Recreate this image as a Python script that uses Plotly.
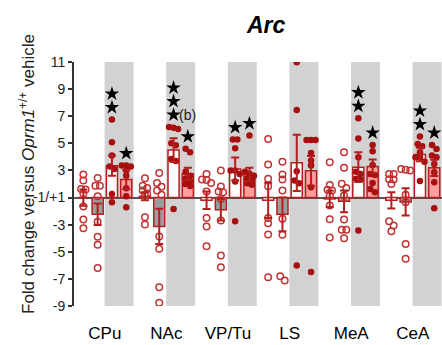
import plotly.graph_objects as go

# ---------------- data (fold change vs Oprm1+/+ vehicle) ----------------
regions = ["CPu", "NAc", "VP/Tu", "LS", "MeA", "CeA"]
y_tick_vals_fold = [11, 9, 7, 5, 3, 1, -3, -5, -7, -9]
y_tick_text = ["11", "9", "7", "5", "3", "-1/+1", "-3", "-5", "-7", "-9"]

# group 1: open circles, white bar
pts_g1 = [
    [2.7, 2.25, 1.64, 1.6, 1.3, -1.66, -2.62, -3.26],
    [2.43, 1.88, 1.71, 1.52, 1.3, 1.15, -2.45, -2.99],
    [2.74, 2.33, 2.3, 2.08, 1.44, -2.5, -3.14, -4.59],
    [5.32, 3.43, 2.38, 1.84, -2.5, -2.89, -3.73, -6.87],
    [3.6, 1.93, 1.57, 1.52, 1.15, -1.59, -2.6, -3.95],
    [2.74, 2.74, 2.35, 2.33, 2.0, -2.74, -3.06, -3.48],
]
# group 2: open circles, grey bar
pts_g2 = [
    [2.45, 1.88, 1.88, 1.1, -2.78, -3.9, -4.49, -6.2],
    [2.82, 2.08, 1.79, 1.52, 1.2, -3.87, -4.78, -7.61, -8.76],
    [2.99, 1.81, 1.44, 1.39, -1.1, -2.7, -5.28, -6.14],
    [3.65, 2.7, 2.33, 1.52, -2.57, -3.75, -6.8, -7.12],
    [4.34, 3.19, 2.01, 1.71, 1.15, -2.62, -3.38, -3.38, -4.0],
    [3.11, 3.06, 2.99, 1.2, -1.34, -4.42, -5.52],
]
# group 3: filled dots, white bar (shaded band)
pts_g3 = [
    [6.75, 5.08, 4.1, 3.3, 3.1, 1.27, -1.34],
    [6.2, 6.15, 6.05, 5.0, 4.85, 3.85, 3.7, -1.84],
    [5.28, 5.28, 4.64, 3.0, 3.0, 2.74, 2.18, -2.74],
    [10.98, 7.46, 2.94, 2.25, 2.06, -6.01],
    [6.85, 5.35, 3.97, 2.9, 2.74, 2.38, 2.33, -3.43],
    [5.5, 4.96, 4.78, 4.34, 3.97, 3.97, 3.65, 2.23],
]
# group 4: filled dots, pink bar (shaded band)
pts_g4 = [
    [3.36, 3.36, 3.3, 3.0, 2.6, 1.69, 1.1, -1.71],
    [4.6, 4.35, 2.9, 2.6, 2.4, 2.2, 2.0, 1.85],
    [5.57, 2.9, 2.75, 2.6, 2.4, 2.25, 2.05, 1.95],
    [5.25, 5.25, 5.25, 4.29, 3.73, 3.36, 1.76, -6.5],
    [4.88, 4.42, 3.41, 2.74, 2.67, 2.08, 1.64, 1.39],
    [4.88, 4.59, 4.1, 3.97, 3.48, 2.87, 2.13, -1.79],
]

mean_g1 = [1.0, 1.1, -1.2, -1.2, -1.1, -1.2]
mean_g2 = [-2.23, -3.13, -1.9, -2.24, -1.28, -1.32]
mean_g3 = [3.35, 4.5, 3.11, 3.56, 3.24, 4.17]
mean_g4 = [2.33, 2.75, 2.7, 2.97, 3.3, 3.19]

sem_g1 = [0.6, 0.3, 0.65, 1.3, 0.6, 0.6]
sem_g2 = [0.8, 1.3, 0.8, 1.24, 0.8, 1.0]
sem_g3 = [0.75, 0.87, 0.85, 2.08, 1.1, 0.5]
sem_g4 = [0.7, 0.45, 0.5, 1.1, 0.5, 0.6]

stars_g3 = [2, 3, 1, 0, 2, 2]
stars_g4 = [1, 1, 1, 0, 1, 1]
star_note = {("g3", "NAc"): "(b)"}

# ---------------- styling ----------------
FONT = "Arial, Liberation Sans, sans-serif"
DARK_RED = "#a80f0f"
OPEN_RED = "#c23333"
BAR_LINE = "#b41e1e"
BAND = "#d3d2d3"
W, H = 442, 345
ML, MR, MT, MB = 74, 0, 62, 39
PLOT_W = W - ML - MR
PLOT_H = H - MT - MB
Y_RANGE = [-8, 10]
CAT_PX = 61.6
X_RANGE = [-0.5, -0.5 + PLOT_W / CAT_PX]
PX_PER_X = PLOT_W / (X_RANGE[1] - X_RANGE[0])
PX_PER_Y = PLOT_H / (Y_RANGE[1] - Y_RANGE[0])
SLOT = 0.232          # distance between bars in a group (x units)
BAR_W = 0.18


def to_plot(f):
    """Broken fold-change axis: +1 and -1 both map to 0."""
    return f - 1 if f >= 1 else f + 1


def swarm(vals, step_px=4.5, thr_px=4.5):
    """Centered row layout of points with similar values (pixel space)."""
    order = sorted(range(len(vals)), key=lambda k: -vals[k])
    offs = [0.0] * len(vals)
    clusters = []
    for k in order:
        if clusters and abs(vals[clusters[-1][0]] - vals[k]) * PX_PER_Y < thr_px:
            clusters[-1].append(k)
        else:
            clusters.append([k])
    for c in clusters:
        n = len(c)
        for j, k in enumerate(c):
            offs[k] = (j - (n - 1) / 2) * step_px / PX_PER_X
    return offs


fig = go.Figure()

# shaded bands behind groups 3 and 4
for i, _ in enumerate(regions):
    fig.add_shape(type="rect", xref="x", yref="y", layer="below",
                  x0=i + SLOT - 0.235, x1=i + SLOT + 0.235,
                  y0=Y_RANGE[0], y1=Y_RANGE[1], fillcolor=BAND, line_width=0)

series = [
    ("g1", pts_g1, mean_g1, sem_g1, "white", "open", None),
    ("g2", pts_g2, mean_g2, sem_g2, "#9c9c9c", "open", None),
    ("g3", pts_g3, mean_g3, sem_g3, "white", "filled", stars_g3),
    ("g4", pts_g4, mean_g4, sem_g4, "#ff9e9e", "filled", stars_g4),
]

for s_idx, (name, pts, means, sems, fill, style, stars) in enumerate(series):
    off = (s_idx - 1.5) * SLOT
    xs = [i + off for i in range(len(regions))]
    ym = [to_plot(m) for m in means]
    fig.add_trace(go.Bar(x=xs, y=ym, width=BAR_W, showlegend=False,
                         marker=dict(color=fill, line=dict(color=BAR_LINE, width=1.5))))

for s_idx, (name, pts, means, sems, fill, style, stars) in enumerate(series):
    off = (s_idx - 1.5) * SLOT
    px, py = [], []
    for i, vals in enumerate(pts):
        pv = [to_plot(v) for v in vals]
        jit = swarm(pv)
        px += [i + off + j for j in jit]
        py += pv
    if style == "open":
        mk = dict(symbol="circle-open", size=6.5, color=OPEN_RED, line=dict(width=1.5))
    else:
        mk = dict(symbol="circle", size=6.5, color=DARK_RED, line=dict(width=0))
    fig.add_trace(go.Scatter(x=px, y=py, mode="markers", marker=mk, showlegend=False,
                             hoverinfo="skip"))

for s_idx, (name, pts, means, sems, fill, style, stars) in enumerate(series):
    off = (s_idx - 1.5) * SLOT
    xs = [i + off for i in range(len(regions))]
    ym = [to_plot(m) for m in means]
    fig.add_trace(go.Scatter(x=xs, y=ym, mode="markers", showlegend=False,
                             marker=dict(size=1, color="rgba(0,0,0,0)"),
                             error_y=dict(type="data", array=sems, visible=True,
                                          color=BAR_LINE, thickness=2, width=4)))

# significance stars
sx, sy = [], []
for s_idx, (name, pts, means, sems, fill, style, stars) in enumerate(series):
    if stars is None:
        continue
    off = (s_idx - 1.5) * SLOT
    for i, n in enumerate(stars):
        top = max(to_plot(v) for v in pts[i])
        for k in range(n):
            sx.append(i + off)
            sy.append(top + 0.9 + k * 1.0)
        note = star_note.get((name, regions[i]))
        if note and n:
            fig.add_annotation(x=i + off + 0.06, y=top + 0.9, text=note, showarrow=False,
                               xanchor="left", yanchor="middle",
                               font=dict(family=FONT, size=14, color="#222"))
fig.add_trace(go.Scatter(x=sx, y=sy, mode="markers", showlegend=False,
                         marker=dict(symbol="star", size=11, color="black")))

fig.add_annotation(xref="paper", yref="paper", x=(266 - ML) / PLOT_W,
                   y=(H - MB - 25) / PLOT_H, text="<b><i>Arc</i></b>", showarrow=False,
                   xanchor="center", yanchor="middle",
                   font=dict(family=FONT, size=23, color="black"))
fig.add_annotation(xref="paper", yref="paper", x=(27 - ML) / PLOT_W,
                   y=(H - MB - 174) / PLOT_H, textangle=-90, showarrow=False,
                   text="Fold change versus <i>Oprm1</i><sup>+/+</sup> vehicle",
                   xanchor="center", yanchor="middle",
                   font=dict(family=FONT, size=17, color="#222"))

fig.update_layout(
    width=W, height=H, margin=dict(l=ML, r=MR, t=MT, b=MB, pad=0, autoexpand=False),
    plot_bgcolor="white", paper_bgcolor="white", barmode="overlay",
    font=dict(family=FONT, color="#222"),
    xaxis=dict(range=X_RANGE, tickvals=list(range(len(regions))), ticktext=regions,
               automargin=False,
               showgrid=False, zeroline=False, showline=False, ticks="outside",
               ticklen=12, tickcolor="rgba(0,0,0,0)",
               tickfont=dict(family=FONT, size=17, color="black")),
    yaxis=dict(range=Y_RANGE, tickvals=[to_plot(v) for v in y_tick_vals_fold],
               ticktext=y_tick_text, showgrid=False, zeroline=True, automargin=False,
               zerolinecolor="#555", zerolinewidth=2, showline=True,
               linecolor="#333", linewidth=2, ticks="outside", ticklen=4,
               tickwidth=2, tickcolor="#333",
               tickfont=dict(family=FONT, size=14, color="#222")),
)

fig.write_html("out.html", config={"displayModeBar": False},
               post_script="document.body.style.margin='0';document.body.style.overflow='hidden';")
